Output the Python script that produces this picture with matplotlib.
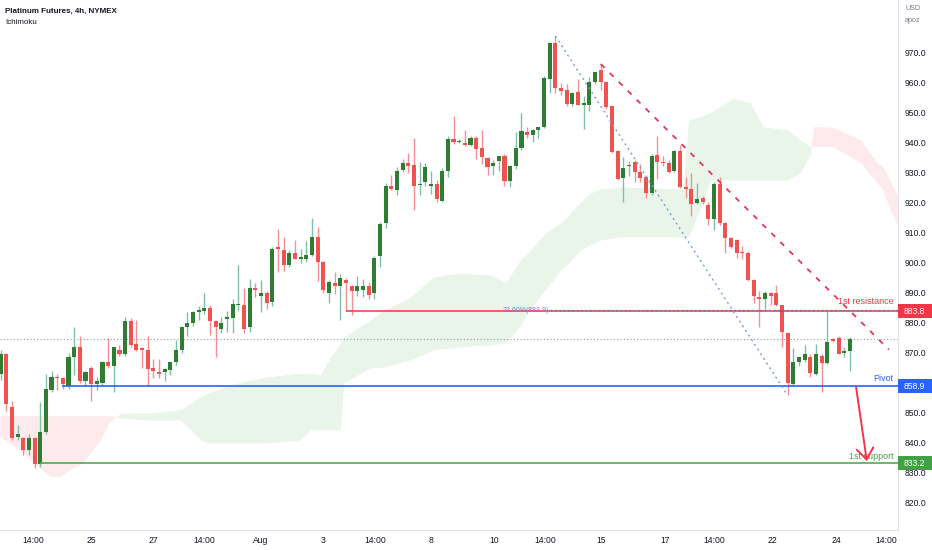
import matplotlib
matplotlib.use("Agg")
import matplotlib.pyplot as plt
from matplotlib.patches import Rectangle
import matplotlib.transforms as mtransforms
import numpy as np

plt.rcParams['font.family'] = ['Liberation Sans', 'DejaVu Sans']

# ---------------- data (4h candles, Platinum futures) ----------------
opens = [862.8, 869.5, 852.0, 842.0, 841.5, 837.5, 841.5, 833.0, 843.5, 857.5,
         862.0, 861.5, 859.0, 868.7, 872.0, 860.5, 865.0, 859.6, 860.0, 866.8,
         865.5, 871.0, 869.5, 880.6, 873.0, 871.5, 871.0, 864.8, 863.4, 863.4,
         864.2, 866.8, 870.8, 878.5, 880.0, 883.6, 883.7, 885.0, 880.6, 878.0,
         881.2, 881.5, 885.8, 886.0, 878.4, 891.6, 889.0, 889.7, 886.7, 905.0,
         904.3, 899.3, 903.0, 901.0, 901.3, 902.6, 908.3, 900.0, 890.0, 893.3,
         892.0, 894.3, 892.3, 890.4, 891.0, 892.3, 890.0, 902.3, 913.0, 925.5,
         924.0, 930.8, 933.2, 932.5, 925.7, 926.8, 925.5, 926.0, 920.6, 930.5,
         941.0, 940.0, 939.6, 939.0, 941.3, 938.0, 934.6, 932.0, 933.6, 935.5,
         927.0, 932.0, 938.0, 943.4, 942.5, 944.0, 945.0, 961.0, 973.0, 958.0,
         957.5, 952.6, 956.7, 952.4, 952.4, 960.0, 964.0, 960.0, 952.0, 937.0,
         928.0, 932.0, 933.5, 930.0, 928.5, 923.0, 935.8, 933.5, 933.0, 930.3,
         937.2, 925.2, 924.5, 919.7, 921.6, 919.2, 914.6, 926.2, 913.2, 908.0,
         907.3, 903.3, 903.3, 894.3, 888.4, 887.7, 889.7, 889.7, 885.7, 876.4,
         859.6, 867.0, 867.4, 868.7, 863.0, 869.0, 866.7, 874.7, 875.0, 870.0,
         870.4]
highs = [871.0, 870.0, 854.0, 846.0, 842.0, 843.0, 842.0, 853.5, 862.8, 864.0,
         862.8, 862.0, 870.0, 878.5, 875.6, 864.0, 865.5, 862.0, 867.3, 874.8,
         872.0, 872.5, 881.7, 881.5, 881.0, 872.0, 875.5, 868.0, 868.0, 865.0,
         867.0, 874.2, 879.0, 883.5, 884.0, 885.5, 890.0, 886.0, 881.0, 882.0,
         884.0, 888.0, 899.3, 891.5, 894.5, 893.0, 894.0, 890.5, 905.0, 911.2,
         908.3, 904.0, 907.5, 904.5, 907.0, 914.9, 911.8, 900.5, 894.0, 896.7,
         896.0, 894.8, 892.5, 895.5, 894.5, 893.5, 902.0, 913.5, 926.3, 929.0,
         931.7, 934.5, 936.4, 941.3, 933.3, 933.0, 930.5, 927.5, 931.5, 942.0,
         948.7, 941.0, 944.0, 942.0, 942.0, 944.0, 935.0, 934.0, 934.5, 936.0,
         932.5, 943.3, 949.8, 945.0, 944.5, 945.2, 962.0, 973.3, 975.3, 959.6,
         959.5, 956.8, 961.0, 955.5, 961.8, 963.5, 966.0, 960.5, 952.5, 937.5,
         935.0, 933.8, 934.0, 932.7, 929.0, 936.0, 942.0, 935.3, 934.2, 937.5,
         939.0, 928.5, 929.7, 926.5, 922.0, 920.0, 926.8, 928.5, 913.5, 908.5,
         907.8, 905.5, 903.8, 894.5, 890.4, 890.4, 890.2, 892.6, 886.0, 876.8,
         871.5, 867.8, 872.5, 869.7, 873.0, 869.6, 884.0, 875.0, 875.5, 872.0,
         875.3]
lows = [861.0, 850.5, 841.0, 841.0, 836.0, 836.0, 831.5, 832.0, 843.0, 857.0,
        857.5, 858.0, 858.0, 862.5, 860.0, 859.0, 853.8, 857.5, 859.0, 865.0,
        857.0, 869.0, 869.0, 872.0, 870.5, 865.0, 858.9, 861.5, 861.5, 860.5,
        862.5, 866.0, 870.0, 875.4, 879.0, 881.0, 883.0, 875.8, 868.5, 876.5,
        877.0, 876.5, 884.0, 876.5, 876.8, 888.5, 883.4, 884.5, 885.5, 896.7,
        897.0, 898.5, 901.0, 899.8, 900.0, 902.0, 893.7, 890.0, 886.5, 889.4,
        880.7, 883.8, 882.4, 889.0, 888.4, 888.0, 888.0, 898.6, 911.5, 924.0,
        922.5, 930.0, 929.7, 917.6, 922.5, 925.3, 922.8, 920.1, 920.0, 928.5,
        939.5, 939.7, 938.8, 938.8, 934.4, 932.8, 929.2, 929.0, 930.4, 925.4,
        925.2, 931.0, 937.5, 941.3, 940.0, 941.3, 944.8, 956.4, 956.4, 955.8,
        952.0, 952.0, 952.4, 944.4, 950.4, 959.5, 957.4, 951.0, 936.5, 927.5,
        920.0, 928.8, 926.6, 926.6, 921.6, 922.4, 927.8, 932.0, 929.9, 930.0,
        924.7, 921.5, 915.3, 919.4, 919.4, 912.5, 910.9, 912.5, 903.3, 904.8,
        901.5, 901.0, 893.7, 886.6, 878.4, 884.6, 886.0, 885.5, 871.8, 855.8,
        859.0, 865.5, 866.8, 862.0, 862.4, 856.8, 866.3, 873.5, 869.5, 868.5,
        864.0]
closes = [869.5, 853.0, 841.5, 843.0, 837.5, 841.5, 833.0, 843.5, 857.8, 862.0,
          861.5, 859.5, 868.7, 872.0, 860.5, 863.6, 859.6, 860.5, 867.0, 865.5,
          871.8, 869.5, 880.6, 872.7, 871.0, 870.8, 864.5, 864.0, 862.8, 864.5,
          866.8, 870.8, 878.5, 880.0, 883.6, 884.0, 885.0, 880.4, 878.4, 880.0,
          881.5, 886.2, 886.2, 877.8, 891.6, 890.7, 890.0, 886.4, 904.6, 904.6,
          899.3, 903.3, 901.3, 901.8, 902.6, 908.3, 900.0, 890.7, 893.4, 892.0,
          894.7, 893.3, 890.4, 892.3, 892.0, 889.3, 901.6, 912.7, 925.5, 924.5,
          930.5, 933.2, 932.2, 925.5, 926.0, 931.8, 926.0, 921.0, 930.5, 941.0,
          940.0, 940.5, 939.0, 941.3, 937.8, 935.0, 931.8, 933.0, 935.5, 927.2,
          932.2, 938.0, 943.6, 942.5, 944.1, 945.0, 961.4, 973.0, 958.0, 957.0,
          952.8, 956.4, 952.4, 952.8, 960.0, 963.4, 960.0, 951.7, 936.8, 927.8,
          931.5, 932.3, 930.0, 928.2, 923.2, 935.5, 933.5, 933.0, 930.2, 937.2,
          925.2, 924.5, 919.6, 921.0, 920.0, 914.6, 926.2, 913.2, 908.0, 905.0,
          903.0, 903.0, 894.3, 888.7, 887.7, 889.7, 889.0, 885.7, 876.7, 860.0,
          867.0, 868.7, 869.4, 863.3, 869.4, 866.4, 873.7, 873.8, 869.7, 870.7,
          874.7]

# Ichimoku cloud (leading spans, plotted 26 bars ahead)
cloud_idx = [0, 3.5, 5.8, 8.8, 10.6, 12.4, 14.7, 17.7, 19.4, 21.2, 26.5, 31.8,
             35.3, 36.6, 41.1, 47.1, 53.0, 54.7, 56.5, 58.3, 60.0, 60.6, 65.3,
             67.6, 72.4, 76.5, 81.2, 86.5, 89.2, 91.8, 93.1, 96.2, 98.9, 100.7,
             102.4, 104.2, 106.0, 109.5, 114.8, 120.6, 121.5, 123.6, 125.4,
             127.1, 129.4, 132.4, 134.7, 139.0, 141.3, 143.0, 143.7, 147.1,
             151.9, 154.9, 155.9, 157.2, 158.6]
span_a = [842.0, 837.6, 833.3, 828.7, 828.7, 831.0, 833.3, 841.0, 847.0, 849.9,
          849.9, 851.0, 855.3, 856.5, 859.6, 861.9, 863.2, 863.0, 862.6, 868.6,
          873.0, 875.2, 880.9, 884.0, 888.5, 895.2, 896.5, 895.8, 893.2, 900.8,
          903.0, 909.8, 913.0, 916.5, 920.0, 923.1, 924.5, 925.1, 924.8, 924.4,
          947.4, 948.4, 950.0, 951.7, 954.7, 953.0, 945.1, 944.1, 940.7, 938.5,
          938.4, 938.4, 933.1, 926.4, 924.0, 917.5, 911.8]
span_b = [848.9, 848.9, 848.9, 848.9, 848.9, 848.9, 848.9, 848.9, 848.9, 848.2,
          847.6, 847.6, 841.0, 839.9, 839.9, 839.9, 841.0, 844.3, 844.3, 844.3,
          844.3, 859.9, 864.9, 865.2, 867.6, 870.9, 871.9, 872.6, 873.2, 879.2,
          883.2, 890.9, 897.5, 900.5, 904.2, 906.0, 907.5, 908.5, 908.5, 908.5,
          908.5, 918.0, 927.4, 927.4, 927.4, 927.4, 927.4, 927.4, 930.0, 936.0,
          945.1, 944.7, 940.7, 933.0, 931.8, 927.0, 921.8]

# levels
resistance = 883.8
pivot = 858.9
support = 833.2
fib_level = 883.9
last_price = 874.7
fib_high_idx, fib_low_idx = 98, 139
trend_start = (106, 966.0)
trend_end = (156.9, 871.0)
arrow_start = (151.1, 858.5)
arrow_end = (153.0, 833.9)

tick_pos = [5.8, 16.0, 27.0, 36.0, 46.0, 57.0, 66.2, 76.0, 87.1, 96.2, 106.1,
            117.4, 126.1, 136.3, 147.6, 156.5]
tick_labels = ["14:00", "25", "27", "14:00", "Aug", "3", "14:00", "8", "10",
               "14:00", "15", "17", "14:00", "22", "24", "14:00"]
y_ticks = [820, 830, 840, 850, 870, 880, 890, 900, 910, 920, 930, 940, 950,
           960, 970]  # 860.0 sits hidden behind the pivot price box

# ---------------- figure ----------------
W, H = 932, 550
fig = plt.figure(figsize=(W / 100, H / 100), dpi=100)
ax = fig.add_axes([0, 20 / H, 898 / W, 530 / H])
ax.set_xlim(-0.1, 158.5)
ax.set_ylim(811.0, 987.3)

# cloud
cx = np.array(cloud_idx)
a = np.array(span_a)
b = np.array(span_b)
ax.fill_between(cx, a, b, where=a >= b, interpolate=True, color='#4caf50',
                alpha=0.12, lw=0, zorder=1)
ax.fill_between(cx, a, b, where=a < b, interpolate=True, color='#f23645',
                alpha=0.10, lw=0, zorder=1)

# candles
o = np.array(opens); h = np.array(highs); l = np.array(lows); c = np.array(closes)
idx = np.arange(len(o))
up = c >= o
body_green = '#2e7d32'
body_red = '#ef5350'
wick_green = '#7fbfa8'
wick_red = '#f39090'
ax.vlines(idx[up], l[up], h[up], color=wick_green, lw=1.0, zorder=3)
ax.vlines(idx[~up], l[~up], h[~up], color=wick_red, lw=1.0, zorder=3)
bottom = np.minimum(o, c)
height = np.maximum(np.abs(c - o), 0.5)
ax.bar(idx[up], height[up], bottom=bottom[up], width=0.72, color=body_green,
       lw=0, zorder=4)
ax.bar(idx[~up], height[~up], bottom=bottom[~up], width=0.72, color=body_red,
       lw=0, zorder=4)

xr = ax.get_xlim()[1]
# last-price dotted line
ax.hlines(last_price, ax.get_xlim()[0], xr, colors='#9598a1', lw=0.8,
          linestyles=(0, (1, 2)), zorder=2)
# horizontal levels
ax.hlines(resistance, 61, xr, colors='#f23645', lw=1.1, zorder=5)
ax.hlines(fib_level + 0.25, 97.1, xr, colors='#5b6fd6', lw=0.9,
          linestyles=(0, (1.5, 2)), zorder=6)
ax.hlines(pivot, 10.9, xr, colors='#2962ff', lw=1.2, zorder=5)
ax.hlines(support, 6.9, xr, colors='#4caf50', lw=1.2, zorder=5)

# fib diagonal
ax.plot([fib_high_idx, fib_low_idx], [highs[fib_high_idx], lows[fib_low_idx]],
        color='#7a9fd1', lw=1.0, ls=(0, (1.5, 2.5)), zorder=5)
ax.text(92.7, fib_level, "23.60%(883.9)", color='#6b86c9', fontsize=5,
        ha='center', va='center', zorder=7)

# trend line
ax.plot([trend_start[0], trend_end[0]], [trend_start[1], trend_end[1]],
        color='#e8335a', lw=1.3, ls=(0, (3, 4)), zorder=5)

# arrow
ax.annotate("", xy=arrow_end, xytext=arrow_start,
            arrowprops=dict(arrowstyle='->,head_length=0.8,head_width=0.6',
                            color='#f23645', lw=1.4, shrinkA=0, shrinkB=0),
            zorder=8)

# level labels
ax.text(157.7, 886.9, "1st resistance", color='#f23645', fontsize=6.5,
        ha='right', va='center', zorder=7)
ax.text(157.7, 861.3, "Pivot", color='#2962ff', fontsize=6.5,
        ha='right', va='center', zorder=7)
ax.text(157.7, 835.3, "1st support", color='#43a047', fontsize=6.5,
        ha='right', va='center', zorder=7)

# axes styling
for s in ['top', 'left']:
    ax.spines[s].set_visible(False)
ax.spines['right'].set_color('#e0e3eb')
ax.spines['bottom'].set_color('#e0e3eb')
ax.yaxis.tick_right()
ax.set_yticks(y_ticks)
ax.set_yticklabels([f"{v:.1f}" for v in y_ticks])
ax.tick_params(axis='y', length=0, pad=5, labelsize=6.2, labelcolor='#131722')
ax.set_xticks(tick_pos)
ax.set_xticklabels(tick_labels)
ax.tick_params(axis='x', length=0, pad=4, labelsize=6.2, labelcolor='#131722')
for lab in ax.get_yticklabels():
    lab.set_horizontalalignment('left')

# price boxes on axis
blend = mtransforms.blended_transform_factory(fig.transFigure, ax.transData)
for val, col in [(resistance, '#f23645'), (pivot, '#2962ff'), (support, '#43a047')]:
    ax.add_patch(Rectangle((898 / W, val - 2.4), 34 / W, 4.8, transform=blend,
                           facecolor=col, edgecolor='none', clip_on=False, zorder=10))
    ax.text(904 / W, val, f"{val:.1f}", transform=blend, color='white',
            fontsize=6.2, ha='left', va='center', zorder=11, clip_on=False)

# titles
fig.text(5 / W, 1 - 11 / H, "Platinum Futures, 4h, NYMEX", fontsize=5.8,
         fontweight='bold', color='#131722', ha='left', va='center')
fig.text(5 / W, 1 - 23 / H, "Ichimoku", fontsize=5.8, color='#131722',
         ha='left', va='center')
fig.text(905 / W, 1 - 8 / H, "USD", fontsize=5.2, color='#787b86',
         ha='left', va='center')
fig.text(905 / W, 1 - 20 / H, "apoz", fontsize=5.2, color='#787b86',
         ha='left', va='center')

fig.savefig("out.png", dpi=100, facecolor='white')
